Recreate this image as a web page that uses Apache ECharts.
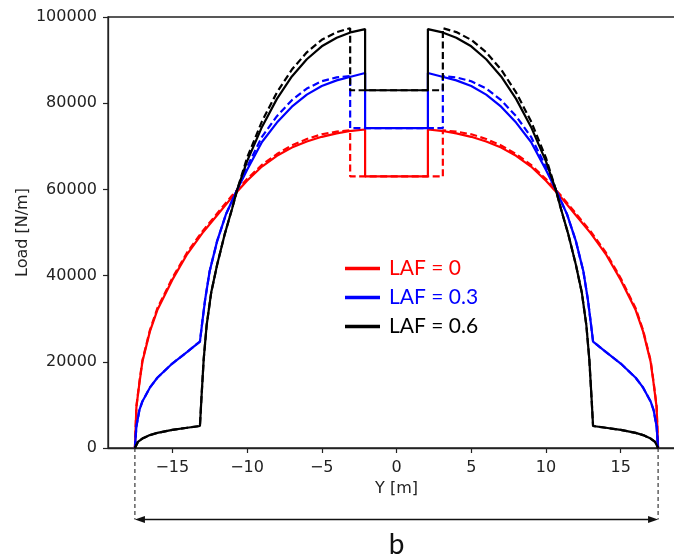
<!DOCTYPE html>
<html><head><meta charset="utf-8">
<script src="https://cdn.jsdelivr.net/npm/echarts@6/dist/echarts.min.js"></script>
<style>html,body{margin:0;padding:0;background:#fff}#c{width:674px;height:556px}</style>
</head><body><div id="c"></div>
<script>
// ---- data (span position Y [m], load [N/m]) ----
const xTickValues = [-15, -10, -5, 0, 5, 10, 15];
const yMin = 0, yMax = 100000, yStep = 20000;
const xMin = -19.3, xMax = 19.3;
const spanEnds = [-17.5, 17.5];

const redSolidSpan = [-17.5,-17.4,-17.2,-17.0,-16.5,-16.0,-15.0,-14.0,-13.0,-12.0,-11.0,-10.0,-9.0,-8.0,-7.0,-6.0,-5.0,-4.0,-3.0,-2.1,-2.1,2.1,2.1,3.0,4.0,5.0,6.0,7.0,8.0,9.0,10.0,11.0,12.0,13.0,14.0,15.0,16.0,16.5,17.0,17.2,17.4,17.5];
const redSolidLoad = [0,9500,15000,20000,27000,32000,39000,45000,49800,54000,58200,62000,65300,67800,69700,71100,72200,73000,73600,73900,63000,63000,73900,73600,73000,72200,71100,69700,67800,65300,62000,58200,54000,49800,45000,39000,32000,27000,20000,15000,9500,0];

const redDashSpan = [-17.5,-17.4,-17.2,-17.0,-16.5,-16.0,-15.0,-14.0,-13.0,-12.0,-11.0,-10.0,-9.0,-8.0,-7.0,-6.0,-5.0,-4.0,-3.1,-3.1,3.1,3.1,4.0,5.0,6.0,7.0,8.0,9.0,10.0,11.0,12.0,13.0,14.0,15.0,16.0,16.5,17.0,17.2,17.4,17.5];
const redDashLoad = [0,9700,15300,20300,27300,32400,39400,45400,50200,54400,58600,62400,65700,68200,70200,71700,72800,73400,73700,63000,63000,73700,73400,72800,71700,70200,68200,65700,62400,58600,54400,50200,45400,39400,32400,27300,20300,15300,9700,0];

const blueSolidSpan = [-17.5,-17.4,-17.2,-17.0,-16.5,-16.0,-15.0,-14.0,-13.15,-13.0,-12.8,-12.5,-12.0,-11.4,-10.65,-10.0,-9.0,-8.0,-7.0,-6.0,-5.0,-4.0,-3.0,-2.1,-2.1,2.1,2.1,3.0,4.0,5.0,6.0,7.0,8.0,9.0,10.0,10.65,11.4,12.0,12.5,12.8,13.0,13.15,14.0,15.0,16.0,16.5,17.0,17.2,17.4,17.5];
const blueSolidLoad = [0,5000,8800,10800,14000,16300,19600,22300,24700,29000,34500,41000,48000,54300,60000,64500,71000,75500,79200,82000,84000,85300,86200,87000,74200,74200,87000,86200,85300,84000,82000,79200,75500,71000,64500,60000,54300,48000,41000,34500,29000,24700,22300,19600,16300,14000,10800,8800,5000,0];

const blueDashSpan = [-17.5,-17.4,-17.2,-17.0,-16.5,-16.0,-15.0,-14.0,-13.15,-13.0,-12.8,-12.5,-12.0,-11.4,-10.65,-10.0,-9.0,-8.0,-7.0,-6.0,-5.0,-4.0,-3.1,-3.1,3.1,3.1,4.0,5.0,6.0,7.0,8.0,9.0,10.0,10.65,11.4,12.0,12.5,12.8,13.0,13.15,14.0,15.0,16.0,16.5,17.0,17.2,17.4,17.5];
const blueDashLoad = [0,5000,8800,10800,14000,16300,19600,22300,24700,29000,34500,41000,48000,54300,60000,65200,72200,77000,80700,83400,85100,86000,86300,74200,74200,86300,86000,85100,83400,80700,77000,72200,65200,60000,54300,48000,41000,34500,29000,24700,22300,19600,16300,14000,10800,8800,5000,0];

const blackSolidSpan = [-17.5,-17.3,-17.0,-16.5,-16.0,-15.0,-14.0,-13.15,-13.05,-12.9,-12.7,-12.4,-12.0,-11.5,-11.0,-10.65,-10.0,-9.0,-8.0,-7.0,-6.0,-5.0,-4.0,-3.0,-2.1,-2.1,2.1,2.1,3.0,4.0,5.0,6.0,7.0,8.0,9.0,10.0,10.65,11.0,11.5,12.0,12.4,12.7,12.9,13.05,13.15,14.0,15.0,16.0,16.5,17.0,17.3,17.5];
const blackSolidLoad = [0,1400,2200,3000,3500,4200,4700,5100,11500,20500,28500,36000,42500,49500,55500,60000,66500,74500,81000,86200,90200,93200,95200,96500,97200,83000,83000,97200,96500,95200,93200,90200,86200,81000,74500,66500,60000,55500,49500,42500,36000,28500,20500,11500,5100,4700,4200,3500,3000,2200,1400,0];

const blackDashSpan = [-17.5,-17.3,-17.0,-16.5,-16.0,-15.0,-14.0,-13.15,-13.05,-12.9,-12.7,-12.4,-12.0,-11.5,-11.0,-10.65,-10.0,-9.0,-8.0,-7.0,-6.0,-5.0,-4.0,-3.1,-3.1,3.1,3.1,4.0,5.0,6.0,7.0,8.0,9.0,10.0,10.65,11.0,11.5,12.0,12.4,12.7,12.9,13.05,13.15,14.0,15.0,16.0,16.5,17.0,17.3,17.5];
const blackDashLoad = [0,1400,2200,3000,3500,4200,4700,5100,11500,20500,28500,36000,42500,49500,55500,60000,67300,75800,82500,87800,91800,94700,96500,97400,83000,83000,97400,96500,94700,91800,87800,82500,75800,67300,60000,55500,49500,42500,36000,28500,20500,11500,5100,4700,4200,3500,3000,2200,1400,0];

const legendNames = ['LAF = 0', 'LAF = 0.3', 'LAF = 0.6'];
const colors = ['#ff0000', '#0000ff', '#000000'];

// ---- chart ----
const pairs = (s, l) => s.map((v, i) => [v, l[i]]);
const tickFont = { fontFamily: 'DejaVu Sans', fontSize: 16, color: '#222' };
const axisCol = '#222';

function lineSeries(name, span, load, color, dashed) {
  return {
    type: 'line', name: name, data: pairs(span, load),
    showSymbol: false, symbol: 'none', animation: false,
    color: color,
    lineStyle: { color: color, width: 2.2, type: dashed ? [7, 3.5] : 'solid' },
    itemStyle: { color: color }
  };
}

const chart = echarts.init(document.getElementById('c'), null, { renderer: 'canvas' });
chart.setOption({
  animation: false,
  backgroundColor: '#ffffff',
  grid: { left: 108, width: 577, top: 17, bottom: 108, outerBoundsMode: 'none', containLabel: false,
    show: true, borderColor: axisCol, borderWidth: 1.3, backgroundColor: 'transparent' },
  xAxis: {
    type: 'value', min: xMin, max: xMax,
    name: 'Y [m]', nameLocation: 'middle', nameGap: 33, nameMoveOverlap: false,
    nameTextStyle: tickFont,
    axisLine: { show: true, onZero: false, lineStyle: { color: axisCol, width: 1.3 } },
    axisTick: { show: true, length: 5, lineStyle: { color: axisCol, width: 1.2 }, customValues: xTickValues },
    axisLabel: { margin: 12, ...tickFont, customValues: xTickValues,
      formatter: v => v < 0 ? '\u2212' + Math.abs(v) : String(v) },
    splitLine: { show: false }
  },
  yAxis: {
    type: 'value', min: yMin, max: yMax, interval: yStep,
    name: 'Load [N/m]', nameLocation: 'middle', nameGap: 77, nameMoveOverlap: false,
    nameTextStyle: tickFont,
    axisLine: { show: true, onZero: false, lineStyle: { color: axisCol, width: 1.3 } },
    axisTick: { show: true, length: 5, lineStyle: { color: axisCol, width: 1.2 } },
    axisLabel: { margin: 11, ...tickFont, formatter: v => String(v) },
    splitLine: { show: false }
  },
  legend: {
    orient: 'vertical', left: 340, top: 253, itemWidth: 35, itemHeight: 3.5, itemGap: 8,
    icon: 'rect', selectedMode: false,
    textStyle: { fontFamily: 'Lato', fontSize: 21, padding: [0, 0, 0, 4] },
    data: legendNames.map((n, i) => ({ name: n, textStyle: { color: colors[i] } }))
  },
  series: [
    lineSeries('LAF = 0 (2)', redDashSpan, redDashLoad, colors[0], true),
    lineSeries(legendNames[0], redSolidSpan, redSolidLoad, colors[0], false),
    lineSeries('LAF = 0.3 (2)', blueDashSpan, blueDashLoad, colors[1], true),
    lineSeries(legendNames[1], blueSolidSpan, blueSolidLoad, colors[1], false),
    lineSeries('LAF = 0.6 (2)', blackDashSpan, blackDashLoad, colors[2], true),
    lineSeries(legendNames[2], blackSolidSpan, blackSolidLoad, colors[2], false)
  ]
});

// ---- span annotation (dimension arrow "b") ----
const pL = chart.convertToPixel({ gridIndex: 0 }, [spanEnds[0], 0]);
const pR = chart.convertToPixel({ gridIndex: 0 }, [spanEnds[1], 0]);
const arrowY = pL[1] + 71.5;
const ah = 10, aw = 3.5;
chart.setOption({
  graphic: [
    { type: 'line', shape: { x1: pL[0], y1: pL[1], x2: pL[0], y2: arrowY }, style: { stroke: '#111', lineWidth: 1, lineDash: [4, 3] } },
    { type: 'line', shape: { x1: pR[0], y1: pR[1], x2: pR[0], y2: arrowY }, style: { stroke: '#111', lineWidth: 1, lineDash: [4, 3] } },
    { type: 'line', shape: { x1: pL[0] + 4, y1: arrowY, x2: pR[0] - 4, y2: arrowY }, style: { stroke: '#111', lineWidth: 1.6 } },
    { type: 'polygon', shape: { points: [[pL[0], arrowY], [pL[0] + ah, arrowY - aw], [pL[0] + ah, arrowY + aw]] }, style: { fill: '#111' } },
    { type: 'polygon', shape: { points: [[pR[0], arrowY], [pR[0] - ah, arrowY - aw], [pR[0] - ah, arrowY + aw]] }, style: { fill: '#111' } },
    { type: 'text', x: (pL[0] + pR[0]) / 2, y: arrowY + 25, style: { text: 'b', fontFamily: 'Lato', fontSize: 28, fill: '#111', textAlign: 'center', textVerticalAlign: 'middle' } }
  ]
});
</script>
</body></html>
